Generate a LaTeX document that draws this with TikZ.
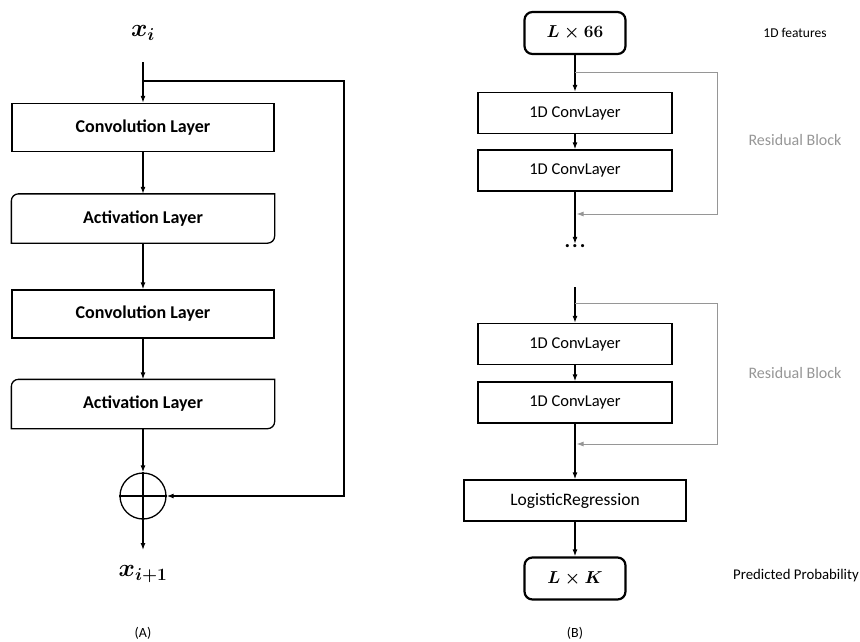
\documentclass[tikz,border=0pt]{standalone}
\usepackage{amsmath}
\usepackage{fontspec}
\setmainfont{Carlito}
\usetikzlibrary{arrows.meta,positioning}
\definecolor{skipgray}{RGB}{150,150,150}

\begin{document}
\begin{tikzpicture}[x=1pt,y=-1pt,line width=1.3pt,
	>={Latex[length=7pt,width=5pt]},
	layer node/.style={draw,minimum width=262pt,minimum height=48pt,inner sep=0pt,font=\fontsize{18}{21}\selectfont\bfseries},
	act node/.style={layer node,draw=none},
	conv node/.style={draw,minimum width=194pt,minimum height=41pt,inner sep=0pt,font=\fontsize{16.5}{19}\selectfont},
	size node/.style={draw,line width=2.2pt,rounded corners=8pt,minimum width=101pt,minimum height=42pt,inner sep=0pt,font=\fontsize{16}{19}\selectfont},
	note node/.style={font=\fontsize{14}{17}\selectfont},
	skip line/.style={->,draw=skipgray,line width=1pt,shorten >=1.5pt}
]

	\useasboundingbox (0,0) rectangle (860,641);

	\def \a {143};
	\def \b {575};

	% (A)
	\node (xi) at (\a,33) {\fontsize{24}{26}\selectfont$\boldsymbol{x_i}$};
	\coordinate (in) at (\a,62);
	\coordinate (fork) at (\a,81);
	\node[layer node] (conv1) at (\a,127.5) {Convolution Layer};
	\node[act node] (act1) at (\a,218.5) {Activation Layer};
	\node[layer node] (conv2) at (\a,314) {Convolution Layer};
	\node[act node] (act2) at (\a,404) {Activation Layer};
	\node[circle,draw,minimum size=46pt,inner sep=0pt] (sum) at (\a,496) {};
	\coordinate (out) at (\a,550);
	\node (xo) at (\a,574) {\fontsize{24}{26}\selectfont$\boldsymbol{x_{i+1}}$};
	\node[note node] (capA) at (\a,633) {(A)};

	\foreach \n in {act1,act2}
		\draw (\n.north) -- (\n.north east) [rounded corners=7pt] -- (\n.south east) [sharp corners] -- (\n.south west) [rounded corners=7pt] -- (\n.north west) [sharp corners] -- (\n.north);

	\draw[->] (in) -- (conv1);
	\draw[->] (conv1) -- (act1);
	\draw[->] (act1) -- (conv2);
	\draw[->] (conv2) -- (act2);
	\draw[->] (act2) -- (sum);
	\draw (sum.north) -- (sum.south) (sum.west) -- (sum.east);
	\draw[->] (sum) -- (out);
	\draw[->] (fork) -- ++(201,0) |- (sum);

	% (B)
	\node[size node] (feat) at (\b,33) {$\boldsymbol{L\times 66}$};
	\node[conv node] (c1) at (\b,113) {1D ConvLayer};
	\node[conv node] (c2) at (\b,170.5) {1D ConvLayer};
	\node[font=\bfseries\fontsize{21}{22}\selectfont,inner sep=0pt] (dots) at (\b,246) {.\hspace{2pt}.\hspace{2pt}.};
	\coordinate (top2) at (\b,287);
	\node[conv node] (c3) at (\b,344) {1D ConvLayer};
	\node[conv node] (c4) at (\b,402.5) {1D ConvLayer};
	\node[conv node,minimum width=222pt,font=\fontsize{17.5}{20}\selectfont] (lr) at (\b,500.5) {LogisticRegression};
	\node[size node] (prob) at (\b,578.5) {$\boldsymbol{L\times K}$};
	\node[note node] (capB) at (\b,633) {(B)};

	\coordinate (split1) at (\b,72);
	\coordinate (join1) at (\b,214);
	\coordinate (split2) at (\b,303);
	\coordinate (join2) at (\b,444);

	\draw[->] (feat) -- (c1);
	\draw[->] (c1) -- (c2);
	\draw[->] (c2) -- (dots.north);
	\draw[->] (top2) -- (c3);
	\draw[->] (c3) -- (c4);
	\draw[->] (c4) -- (lr);
	\draw[->] (lr) -- (prob);

	\draw[skip line] (split1) -- ++(142,0) |- (join1);
	\draw[skip line] (split2) -- ++(142,0) |- (join2);

	\node[note node,font=\fontsize{13.5}{16}\selectfont] (featlab) at (795,33) {1D features};
	\node[note node,text=skipgray,font=\fontsize{16}{19}\selectfont] (res1) at (795,140) {Residual Block};
	\node[note node,text=skipgray,font=\fontsize{16}{19}\selectfont] (res2) at (795,373) {Residual Block};
	\node[note node,font=\fontsize{14.8}{17}\selectfont] (problab) at (796,576) {Predicted Probability};
\end{tikzpicture}
\end{document}
